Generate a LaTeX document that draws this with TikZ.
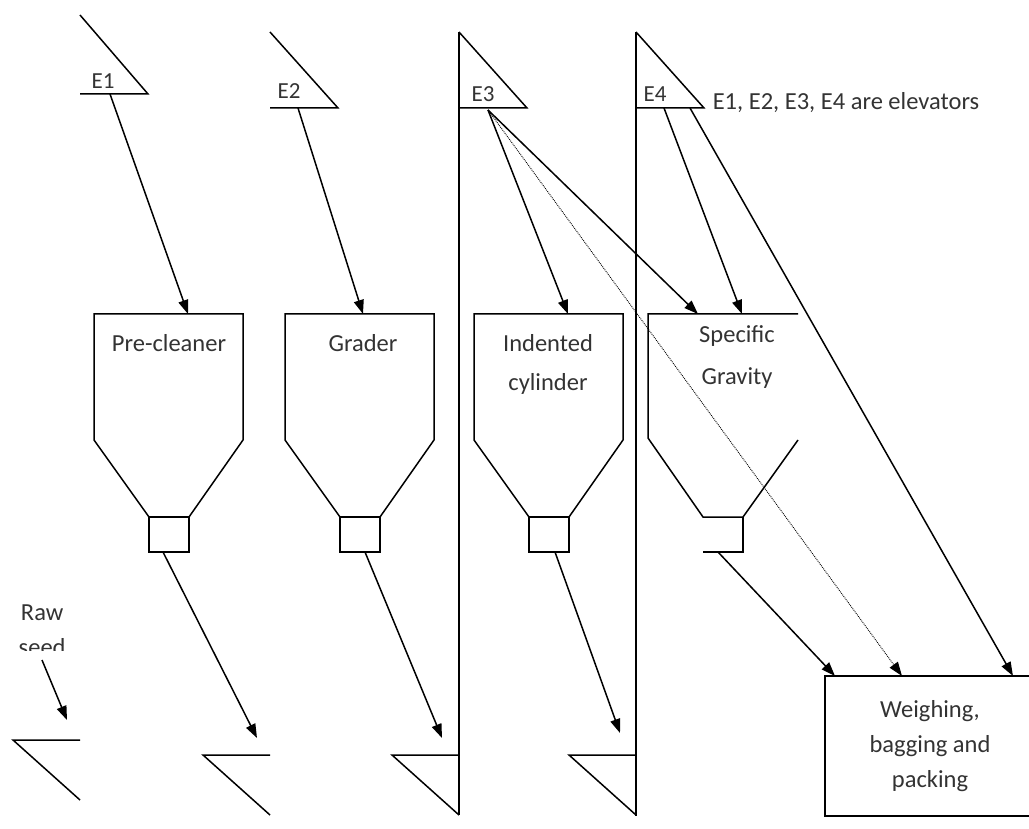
\documentclass[tikz,border=0pt]{standalone}
\usepackage{fontspec}
\setmainfont{Carlito}
\usetikzlibrary{arrows.meta}

\begin{document}
\begin{tikzpicture}[x=1pt,y=-1pt,line width=1.5pt,
    flow/.style={-{Triangle[length=14pt,width=10pt]}},
    trickle/.style={flow,line width=0.9pt,densely dotted},
    lbl/.style={inner sep=0pt,text=black!80,font=\fontsize{24.5}{35}\selectfont,align=center}]
    \useasboundingbox (0,0) rectangle (1029,829);

    % elevator heads and boots
    \foreach \n/\x/\t/\h/\b in {1/80/15/94/740, 2/270/32/108/755, 3/459/32/108/755, 4/636/32/108/755}{
        \draw (\x,\t) -- (\x+68,\h) -- (\x,\h);
        \draw (\x,\b) -- (\x-67,\b) -- (\x,\b+60);
    }
    \draw (459,32) -- (459,815);
    \draw (636,32) -- (636,816);
    \node[lbl,font=\fontsize{23}{26}\selectfont] (e1) at (103,81) {E1};
    \node[lbl,font=\fontsize{23}{26}\selectfont] (e2) at (289,91) {E2};
    \node[lbl,font=\fontsize{23}{26}\selectfont] (e3) at (483,94) {E3};
    \node[lbl,font=\fontsize{23}{26}\selectfont] (e4) at (655,94) {E4};
    \node[lbl,anchor=base west] (key) at (712,110) {E1, E2, E3, E4 are elevators};

    % hoppers
    \foreach \x in {94,285,474}{
        \draw (\x,314) -- ++(149,0) -- ++(0,126) -- ++(-54,77) -- ++(-40,0) -- (\x,440) -- cycle;
        \draw (\x+55,517) rectangle ++(40,35);
    }
    \draw (798,314) -- (648,314) -- (648,438) -- (703,517) -- (743,517) -- (798,440);
    \draw (743,517) -- (743,552) -- (703,552);
    \node[lbl,anchor=base] (pc) at (169,352) {Pre-cleaner};
    \node[lbl,anchor=base] (gr) at (363,352) {Grader};
    \node[lbl,anchor=base,font=\fontsize{24.5}{39}\selectfont] (ic) at (548,390) {Indented\\cylinder};
    \node[lbl,anchor=base,font=\fontsize{24.5}{42}\selectfont] (sg) at (737,384) {Specific\\Gravity};
    \node[lbl,draw=black,minimum width=210pt,minimum height=140pt] (wb) at (930,746) {Weighing,\\bagging and\\packing};

    % raw seed (its text box cuts the second line)
    \begin{scope}
        \clip (0,590) rectangle (120,650);
        \node[lbl,anchor=base west] (raw) at (18,655) {Raw\\seed};
    \end{scope}

    \coordinate (raw_out) at (42,660);
    \coordinate (e1_in) at (67,720);
    \coordinate (e1_out) at (110,94);
    \coordinate (pc_in) at (188,314);
    \coordinate (pc_out) at (163,552);
    \coordinate (e2_in) at (257,738);
    \coordinate (e2_out) at (298,108);
    \coordinate (gr_in) at (363,314);
    \coordinate (gr_out) at (365,552);
    \coordinate (e3_in) at (442,738);
    \coordinate (e3_out) at (488,110);
    \coordinate (ic_in) at (568,314);
    \coordinate (ic_out) at (555,552);
    \coordinate (e4_in) at (620,733);
    \coordinate (e4_out_a) at (664,108);
    \coordinate (e4_out_b) at (690,108);
    \coordinate (sg_in_a) at (698,314);
    \coordinate (sg_in_b) at (742,314);
    \coordinate (sg_out) at (718,552);
    \coordinate (wb_in_a) at (835,676);
    \coordinate (wb_in_b) at (902,676);
    \coordinate (wb_in_c) at (1013,676);

    % seed flow
    \draw[flow] (raw_out) -- (e1_in);
    \draw[flow] (e1_out) -- (pc_in);
    \draw[flow] (pc_out) -- (e2_in);
    \draw[flow] (e2_out) -- (gr_in);
    \draw[flow] (gr_out) -- (e3_in);
    \draw[flow] (e3_out) -- (ic_in);
    \draw[flow] (e3_out) -- (sg_in_a);
    \draw[trickle] (e3_out) -- (wb_in_b);
    \draw[flow] (ic_out) -- (e4_in);
    \draw[flow] (e4_out_a) -- (sg_in_b);
    \draw[flow] (e4_out_b) -- (wb_in_c);
    \draw[flow] (sg_out) -- (wb_in_a);

\end{tikzpicture}
\end{document}
